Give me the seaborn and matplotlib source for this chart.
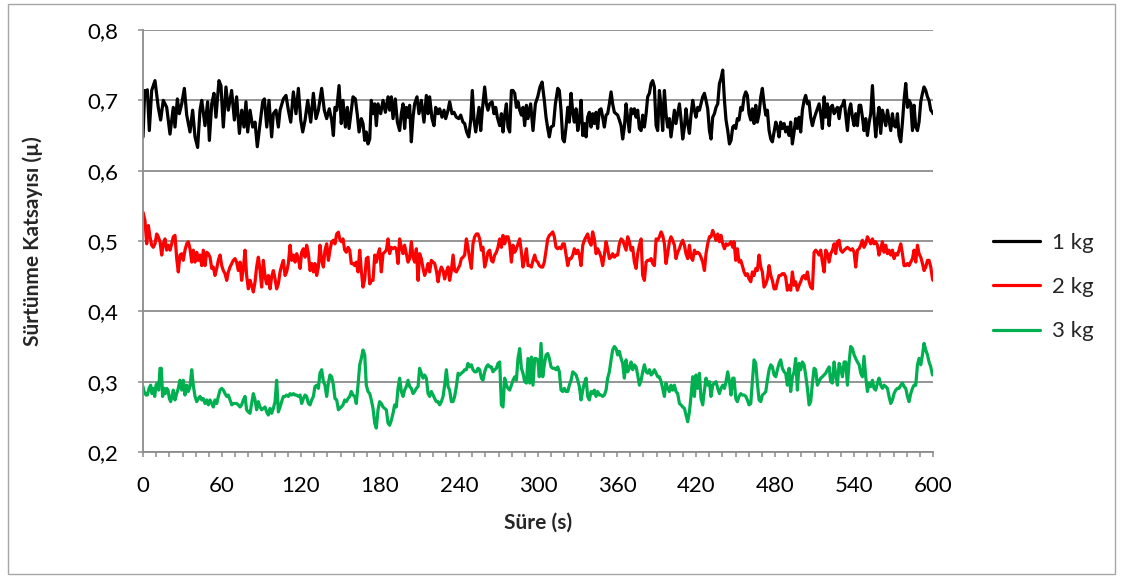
import numpy as np
import pandas as pd
import matplotlib
matplotlib.use("Agg")
import matplotlib.pyplot as plt
from matplotlib.patches import Rectangle
from matplotlib.ticker import MultipleLocator, FuncFormatter
import seaborn as sns

# ---------------- data (time s, friction coefficient) ----------------
series_labels = ["1 kg", "2 kg", "3 kg"]
series_colors = ["#000000", "#FF0000", "#00B050"]

black_pts = [
    (0.0, 0.648), (1.3, 0.714), (2.0, 0.707), (3.3, 0.715), (4.8, 0.657), (6.6, 0.714), (9.1, 0.728),
    (11.6, 0.690), (13.4, 0.672), (15.4, 0.700), (18.0, 0.690), (20.5, 0.652), (23.0, 0.690), (24.3, 0.662),
    (26.1, 0.702), (27.6, 0.681), (29.4, 0.695), (31.4, 0.717), (33.2, 0.679), (35.7, 0.655), (37.7, 0.686),
    (39.5, 0.648), (41.5, 0.633), (43.3, 0.686), (44.6, 0.700), (47.1, 0.664), (49.1, 0.698), (50.4, 0.643),
    (52.2, 0.695), (53.9, 0.710), (55.4, 0.676), (57.7, 0.728), (59.2, 0.721), (61.0, 0.662), (63.0, 0.719),
    (64.8, 0.686), (67.3, 0.714), (69.4, 0.672), (71.1, 0.705), (73.2, 0.653), (75.0, 0.686), (76.7, 0.662),
    (78.2, 0.698), (79.5, 0.655), (81.3, 0.686), (83.3, 0.662), (85.1, 0.669), (86.8, 0.634), (88.9, 0.667),
    (90.9, 0.698), (92.2, 0.702), (94.0, 0.662), (95.7, 0.700), (97.7, 0.648), (99.0, 0.681), (101.0, 0.686),
    (102.8, 0.662), (104.1, 0.686), (106.6, 0.702), (108.6, 0.707), (110.4, 0.686), (112.2, 0.669),
    (114.2, 0.712), (116.2, 0.681), (118.0, 0.717), (119.8, 0.672), (121.3, 0.655), (123.1, 0.672),
    (125.1, 0.700), (127.4, 0.669), (129.4, 0.710), (131.4, 0.674), (133.2, 0.686), (135.7, 0.717),
    (137.7, 0.686), (139.5, 0.674), (141.5, 0.688), (143.3, 0.672), (144.6, 0.650), (145.8, 0.690),
    (147.1, 0.686), (148.9, 0.721),
    (150.6, 0.667), (151.9, 0.700), (153.7, 0.662), (155.2, 0.690), (156.5, 0.660), (158.2, 0.686),
    (159.5, 0.705), (161.3, 0.702), (162.8, 0.679), (164.1, 0.655), (165.8, 0.674), (167.1, 0.667),
    (168.4, 0.643), (169.6, 0.655), (170.9, 0.638), (172.2, 0.645), (173.4, 0.700), (174.7, 0.681),
    (176.0, 0.695), (177.2, 0.664), (178.5, 0.695), (180.5, 0.681), (182.3, 0.700), (184.1, 0.683),
    (186.1, 0.705), (187.3, 0.686), (188.6, 0.705), (189.9, 0.674), (191.6, 0.702), (193.2, 0.669),
    (194.9, 0.657), (196.2, 0.681), (197.5, 0.695), (198.7, 0.660), (200.0, 0.690), (201.3, 0.676),
    (202.5, 0.693), (203.8, 0.641), (205.1, 0.676), (206.3, 0.695), (208.1, 0.705), (209.6, 0.681),
    (211.4, 0.700), (213.4, 0.669), (215.2, 0.707), (216.5, 0.681), (217.7, 0.705), (219.5, 0.674),
    (221.0, 0.664), (222.3, 0.690), (224.1, 0.681), (225.3, 0.688), (227.1, 0.676), (228.6, 0.686),
    (229.9, 0.674), (231.7, 0.686), (232.9, 0.698), (234.7, 0.681), (236.2, 0.683), (238.0, 0.676),
    (239.8, 0.674), (241.3, 0.679), (243.0, 0.669), (244.3, 0.667), (245.8, 0.655), (247.4, 0.648),
    (248.9, 0.672), (250.1, 0.714), (251.4, 0.672), (252.7, 0.655), (253.9, 0.672), (255.2, 0.690),
    (256.5, 0.657), (257.7, 0.686), (259.5, 0.719), (260.8, 0.695), (262.0, 0.686), (263.3, 0.695),
    (265.1, 0.698), (266.6, 0.681), (267.9, 0.690), (269.1, 0.676), (270.9, 0.664), (272.2, 0.681),
    (273.4, 0.655), (274.7, 0.679), (276.0, 0.695), (277.2, 0.662), (278.5, 0.655), (279.8, 0.714),
    (281.0, 0.714), (282.3, 0.710), (283.6, 0.690), (284.8, 0.698), (286.1, 0.686), (287.4, 0.679),
    (288.6, 0.690), (289.9, 0.664), (291.2, 0.693), (292.4, 0.674), (294.4, 0.695), (296.2, 0.657),
    (298.0, 0.695),
    (299.8, 0.705), (301.5, 0.719), (303.1, 0.726), (304.8, 0.700), (306.1, 0.676), (307.4, 0.660),
    (308.6, 0.648), (309.9, 0.662), (311.7, 0.664), (313.2, 0.695), (315.0, 0.717), (316.2, 0.714),
    (317.5, 0.686), (318.8, 0.645), (320.0, 0.641), (321.3, 0.662), (322.6, 0.690), (323.8, 0.669),
    (325.1, 0.710), (326.4, 0.683), (327.6, 0.669), (328.9, 0.688), (330.2, 0.657), (331.4, 0.672),
    (332.7, 0.700), (334.0, 0.650), (335.2, 0.667), (336.5, 0.648), (337.7, 0.676), (339.0, 0.683),
    (340.3, 0.662), (341.5, 0.681), (342.8, 0.667), (344.1, 0.683), (345.3, 0.660), (346.6, 0.686),
    (347.9, 0.688), (349.1, 0.676), (350.4, 0.662), (351.7, 0.679), (352.9, 0.681), (354.2, 0.695),
    (355.5, 0.712), (356.7, 0.695), (358.0, 0.683), (359.3, 0.681), (360.5, 0.679), (361.8, 0.672),
    (363.1, 0.664), (364.3, 0.645), (365.6, 0.662), (366.9, 0.695), (368.1, 0.674), (369.4, 0.655),
    (370.7, 0.688), (371.9, 0.681), (373.2, 0.688), (374.5, 0.676), (375.7, 0.686), (377.0, 0.660),
    (378.3, 0.657), (379.5, 0.679), (380.8, 0.662), (382.1, 0.681), (383.3, 0.705), (384.6, 0.710),
    (385.9, 0.724), (387.1, 0.728), (388.4, 0.719), (389.7, 0.664), (390.9, 0.657), (392.2, 0.714),
    (393.5, 0.690), (394.7, 0.657), (396.0, 0.714), (397.2, 0.681), (398.5, 0.662), (399.8, 0.674),
    (401.0, 0.648), (402.3, 0.667), (403.6, 0.686), (404.8, 0.667), (406.1, 0.681), (407.4, 0.695),
    (408.6, 0.674), (409.9, 0.645), (411.2, 0.662), (412.4, 0.688), (413.7, 0.667), (415.0, 0.653),
    (416.2, 0.679), (417.5, 0.700), (418.8, 0.686), (420.0, 0.676), (421.3, 0.690), (422.6, 0.686),
    (423.8, 0.695), (425.1, 0.705), (426.4, 0.710), (427.6, 0.700), (428.9, 0.688), (430.2, 0.657),
    (431.4, 0.645), (432.7, 0.676), (434.0, 0.681), (435.2, 0.690), (436.5, 0.695), (437.8, 0.724),
    (439.0, 0.731), (440.3, 0.743), (441.6, 0.700), (442.8, 0.672), (444.1, 0.657), (445.4, 0.638),
    (446.6, 0.643), (447.9, 0.662),
    (448.9, 0.664), (450.2, 0.660), (451.4, 0.674), (452.7, 0.672), (454.0, 0.690), (455.2, 0.686),
    (456.5, 0.705), (457.8, 0.712), (459.0, 0.707), (460.3, 0.681), (461.6, 0.672), (462.8, 0.688),
    (464.1, 0.667), (465.4, 0.693), (466.6, 0.669), (467.9, 0.681), (469.2, 0.705), (470.4, 0.717),
    (471.7, 0.695), (473.0, 0.679), (474.2, 0.686), (475.5, 0.657), (476.8, 0.645), (478.0, 0.641),
    (479.3, 0.655), (480.6, 0.669), (481.8, 0.662), (483.1, 0.648), (484.3, 0.669), (485.6, 0.660),
    (486.9, 0.667), (488.1, 0.655), (489.4, 0.662), (490.7, 0.650), (491.9, 0.669), (493.2, 0.638),
    (494.5, 0.655), (495.7, 0.674), (497.0, 0.660), (498.3, 0.676), (499.5, 0.655), (500.8, 0.686),
    (502.1, 0.700), (503.3, 0.707), (504.6, 0.695), (505.9, 0.698), (507.1, 0.676), (508.4, 0.664),
    (509.7, 0.674), (510.9, 0.681), (512.2, 0.688), (513.5, 0.695), (514.7, 0.681), (516.0, 0.660),
    (517.3, 0.705), (518.5, 0.676), (519.8, 0.695), (521.1, 0.664), (522.3, 0.690), (523.6, 0.693),
    (524.9, 0.681), (526.1, 0.686), (527.4, 0.690), (528.7, 0.674), (529.9, 0.690), (531.2, 0.693),
    (532.5, 0.700), (533.7, 0.679), (535.0, 0.657), (536.3, 0.686), (537.5, 0.695), (538.8, 0.676),
    (540.1, 0.664), (541.3, 0.681), (542.6, 0.664), (543.9, 0.693), (545.1, 0.693), (546.4, 0.676),
    (547.6, 0.657), (548.9, 0.674), (550.2, 0.650), (551.4, 0.667), (552.7, 0.681), (554.0, 0.721),
    (555.2, 0.679), (556.5, 0.648), (557.8, 0.674), (559.0, 0.690), (560.3, 0.653), (561.6, 0.686),
    (562.8, 0.676), (564.1, 0.664), (565.4, 0.686), (566.6, 0.672), (567.9, 0.657), (569.2, 0.681),
    (570.4, 0.664), (571.7, 0.662), (573.0, 0.681), (574.2, 0.650), (575.5, 0.641), (576.8, 0.669),
    (578.0, 0.700), (579.3, 0.724), (580.6, 0.690), (581.8, 0.700), (583.1, 0.695), (584.4, 0.657),
    (585.6, 0.693), (586.9, 0.662), (588.2, 0.657), (589.4, 0.669), (590.7, 0.698), (592.0, 0.710),
    (593.2, 0.719), (594.5, 0.714), (595.8, 0.705), (597.0, 0.700), (598.3, 0.686), (599.6, 0.683),
    (600.0, 0.681),
]

red_pts = [
    (0.0, 0.541), (1.5, 0.529), (2.8, 0.496), (4.1, 0.522), (5.3, 0.506), (6.6, 0.494), (7.8, 0.491),
    (9.1, 0.496), (10.4, 0.510), (11.6, 0.506), (12.9, 0.499), (14.2, 0.480), (15.4, 0.496), (16.7, 0.503),
    (18.0, 0.487), (19.2, 0.494), (20.5, 0.487), (21.8, 0.496), (23.0, 0.506), (24.3, 0.508), (25.6, 0.475),
    (26.8, 0.456), (28.1, 0.480), (29.4, 0.482), (30.6, 0.4725), (31.9, 0.487), (33.2, 0.496), (34.4, 0.499),
    (35.7, 0.489), (37.0, 0.470), (38.2, 0.487), (39.5, 0.470), (40.8, 0.484), (42.0, 0.4725), (43.3, 0.480),
    (44.6, 0.465), (45.8, 0.487), (47.1, 0.465), (48.4, 0.484), (49.6, 0.482), (50.9, 0.477), (52.2, 0.461),
    (53.4, 0.463), (54.7, 0.451), (56.0, 0.461), (57.2, 0.4725), (58.5, 0.480), (59.8, 0.465), (61.0, 0.458),
    (62.3, 0.4535), (63.6, 0.444), (64.8, 0.456), (66.1, 0.463), (67.4, 0.468), (68.6, 0.4725), (69.9, 0.475),
    (71.1, 0.470), (72.4, 0.458), (73.7, 0.470), (74.9, 0.444), (76.2, 0.461), (77.5, 0.487), (78.7, 0.451),
    (80.0, 0.432), (81.3, 0.444), (82.5, 0.437), (83.8, 0.4275), (85.1, 0.442), (86.3, 0.463), (87.6, 0.477),
    (88.9, 0.458), (90.1, 0.4345), (91.4, 0.4725), (92.7, 0.449), (93.9, 0.439), (95.2, 0.451), (96.5, 0.432),
    (97.7, 0.449), (99.0, 0.458), (100.3, 0.446), (101.5, 0.432), (102.8, 0.439), (104.1, 0.456),
    (105.3, 0.465), (106.6, 0.4725), (107.9, 0.451), (109.1, 0.456), (110.4, 0.468), (111.7, 0.494),
    (112.9, 0.4725), (114.2, 0.480), (115.5, 0.470), (116.7, 0.482), (118.0, 0.475), (119.3, 0.461),
    (120.5, 0.484), (121.8, 0.489), (123.1, 0.477), (124.3, 0.494), (125.6, 0.482), (126.9, 0.458),
    (128.1, 0.468), (129.4, 0.456), (130.6, 0.468), (131.9, 0.451), (133.2, 0.463), (134.4, 0.494),
    (135.7, 0.4725), (137.0, 0.463), (138.2, 0.487), (139.5, 0.496), (140.8, 0.4725), (142.0, 0.487),
    (143.3, 0.499), (144.6, 0.501), (145.8, 0.496), (147.1, 0.510), (148.4, 0.5125),
    (149.4, 0.503), (150.6, 0.499), (151.9, 0.503), (153.2, 0.487), (154.4, 0.484), (155.7, 0.491),
    (157.0, 0.487), (158.2, 0.468), (159.5, 0.468), (160.8, 0.465), (162.0, 0.470), (163.3, 0.456),
    (164.6, 0.487), (165.8, 0.458), (167.1, 0.4345), (168.4, 0.446), (169.6, 0.475), (170.9, 0.477),
    (172.2, 0.439), (173.4, 0.444), (174.7, 0.444), (176.0, 0.480), (177.2, 0.470), (178.5, 0.482),
    (179.7, 0.489), (181.0, 0.456), (182.3, 0.482), (183.5, 0.484), (184.8, 0.487), (186.1, 0.503),
    (187.3, 0.482), (188.6, 0.491), (189.9, 0.489), (191.1, 0.491), (192.4, 0.489), (193.7, 0.468),
    (194.9, 0.503), (196.2, 0.491), (197.5, 0.482), (198.7, 0.494), (200.0, 0.482), (201.3, 0.470),
    (202.5, 0.475), (203.8, 0.499), (205.1, 0.477), (206.3, 0.470), (207.6, 0.489), (208.9, 0.444),
    (210.1, 0.482), (211.4, 0.475), (212.7, 0.461), (213.9, 0.451), (215.2, 0.458), (216.5, 0.468),
    (217.7, 0.456), (219.0, 0.4725), (220.3, 0.470), (221.5, 0.468), (222.8, 0.458), (224.1, 0.442),
    (225.3, 0.456), (226.6, 0.463), (227.9, 0.458), (229.1, 0.446), (230.4, 0.456), (231.7, 0.463),
    (232.9, 0.444), (234.2, 0.458), (235.5, 0.480), (236.7, 0.458), (238.0, 0.456), (239.3, 0.461),
    (240.5, 0.465), (241.8, 0.475), (243.1, 0.477), (244.3, 0.480), (245.6, 0.503), (246.8, 0.491),
    (248.1, 0.475), (249.4, 0.461), (250.6, 0.496), (251.9, 0.506), (253.2, 0.510), (254.4, 0.510),
    (255.7, 0.503), (257.0, 0.487), (258.2, 0.491), (259.5, 0.463), (260.8, 0.4725), (262.0, 0.484),
    (263.3, 0.487), (264.6, 0.4725), (265.8, 0.470), (267.1, 0.480), (268.4, 0.484), (269.6, 0.491),
    (270.9, 0.503), (272.2, 0.491), (273.4, 0.508), (274.7, 0.496), (276.0, 0.506), (277.2, 0.506),
    (278.5, 0.496), (279.8, 0.470), (281.0, 0.494), (282.3, 0.484), (283.6, 0.489), (284.8, 0.496),
    (286.1, 0.503), (287.4, 0.484), (288.6, 0.463), (289.9, 0.475), (291.2, 0.489), (292.4, 0.465),
    (293.7, 0.465), (295.0, 0.463), (296.2, 0.4725), (297.5, 0.480),
    (298.5, 0.4725), (299.8, 0.470), (301.0, 0.465), (302.3, 0.463), (303.6, 0.463), (304.8, 0.470),
    (306.1, 0.487), (307.4, 0.503), (308.6, 0.508), (309.9, 0.510), (311.2, 0.513), (312.4, 0.506),
    (313.7, 0.491), (315.0, 0.489), (316.2, 0.491), (317.5, 0.489), (318.8, 0.496), (320.0, 0.496),
    (321.3, 0.480), (322.6, 0.465), (323.8, 0.475), (325.1, 0.475), (326.4, 0.480), (327.6, 0.489),
    (328.9, 0.482), (330.2, 0.487), (331.4, 0.480), (332.7, 0.465), (334.0, 0.494), (335.2, 0.501),
    (336.5, 0.506), (337.7, 0.510), (339.0, 0.499), (340.3, 0.494), (341.5, 0.513), (342.8, 0.503),
    (344.1, 0.482), (345.3, 0.489), (346.6, 0.484), (347.9, 0.477), (349.1, 0.465), (350.4, 0.480),
    (351.7, 0.499), (352.9, 0.489), (354.2, 0.475), (355.5, 0.477), (356.7, 0.482), (358.0, 0.477),
    (359.3, 0.480), (360.5, 0.480), (361.8, 0.496), (363.1, 0.503), (364.3, 0.501), (365.6, 0.494),
    (366.9, 0.487), (368.1, 0.506), (369.4, 0.499), (370.7, 0.487), (371.9, 0.491), (373.2, 0.470),
    (374.5, 0.461), (375.7, 0.482), (377.0, 0.494), (378.3, 0.503), (379.5, 0.451), (380.8, 0.444),
    (382.1, 0.470), (383.3, 0.4725), (384.6, 0.4725), (385.9, 0.475), (387.1, 0.468), (388.4, 0.465),
    (389.7, 0.503), (390.9, 0.501), (392.2, 0.506), (393.5, 0.513), (394.7, 0.508), (396.0, 0.496),
    (397.2, 0.468), (398.5, 0.482), (399.8, 0.499), (401.0, 0.506), (402.3, 0.501), (403.6, 0.494),
    (404.8, 0.475), (406.1, 0.484), (407.4, 0.489), (408.6, 0.496), (409.9, 0.501), (411.2, 0.494),
    (412.4, 0.482), (413.7, 0.475), (415.0, 0.494), (416.2, 0.477), (417.5, 0.4725), (418.8, 0.487),
    (420.0, 0.482), (421.3, 0.484), (422.6, 0.482), (423.8, 0.477), (425.1, 0.470), (426.4, 0.458),
    (427.6, 0.482), (428.9, 0.496), (430.2, 0.506), (431.4, 0.506), (432.7, 0.515), (434.0, 0.508),
    (435.2, 0.501), (436.5, 0.510), (437.8, 0.499), (439.0, 0.508), (440.3, 0.496), (441.6, 0.489),
    (442.8, 0.496), (444.1, 0.494), (445.4, 0.496), (446.6, 0.499), (447.9, 0.491),
    (448.9, 0.499), (450.2, 0.4725), (451.4, 0.489), (452.7, 0.470), (454.0, 0.4725), (455.2, 0.465),
    (456.5, 0.456), (457.8, 0.451), (459.0, 0.4535), (460.3, 0.446), (461.6, 0.442), (462.8, 0.456),
    (464.1, 0.451), (465.4, 0.461), (466.6, 0.458), (467.9, 0.480), (469.2, 0.463), (470.4, 0.456),
    (471.7, 0.4345), (473.0, 0.439), (474.2, 0.446), (475.5, 0.465), (476.8, 0.451), (478.0, 0.444),
    (479.3, 0.432), (480.6, 0.432), (481.8, 0.442), (483.1, 0.451), (484.3, 0.451), (485.6, 0.4535),
    (486.9, 0.4535), (488.1, 0.449), (489.4, 0.430), (490.7, 0.437), (491.9, 0.430), (493.2, 0.456),
    (494.5, 0.437), (495.7, 0.442), (497.0, 0.430), (498.3, 0.437), (499.5, 0.442), (500.8, 0.449),
    (502.1, 0.451), (503.3, 0.446), (504.6, 0.456), (505.9, 0.442), (507.1, 0.4345), (508.4, 0.432),
    (509.7, 0.484), (510.9, 0.487), (512.2, 0.484), (513.5, 0.480), (514.7, 0.487), (516.0, 0.470),
    (517.3, 0.456), (518.5, 0.487), (519.8, 0.482), (521.1, 0.470), (522.3, 0.482), (523.6, 0.487),
    (524.9, 0.496), (526.1, 0.482), (527.4, 0.499), (528.7, 0.501), (529.9, 0.487), (531.2, 0.484),
    (532.5, 0.487), (533.7, 0.489), (535.0, 0.491), (536.3, 0.489), (537.5, 0.487), (538.8, 0.489),
    (540.1, 0.484), (541.3, 0.463), (542.6, 0.487), (543.9, 0.489), (545.1, 0.494), (546.4, 0.501),
    (547.6, 0.491), (548.9, 0.496), (550.2, 0.506), (551.4, 0.501), (552.7, 0.496), (554.0, 0.503),
    (555.2, 0.496), (556.5, 0.499), (557.8, 0.494), (559.0, 0.480), (560.3, 0.489), (561.6, 0.499),
    (562.8, 0.484), (564.1, 0.494), (565.4, 0.482), (566.6, 0.487), (567.9, 0.480), (569.2, 0.487),
    (570.4, 0.475), (571.7, 0.482), (573.0, 0.480), (574.2, 0.487), (575.5, 0.496), (576.8, 0.482),
    (578.0, 0.465), (579.3, 0.465), (580.6, 0.468), (581.8, 0.465), (583.1, 0.470), (584.4, 0.475),
    (585.6, 0.487), (586.9, 0.470), (588.2, 0.494), (589.4, 0.482), (590.7, 0.477), (592.0, 0.468),
    (593.2, 0.458), (594.5, 0.463), (595.8, 0.4725), (597.0, 0.4725), (598.3, 0.463), (599.6, 0.446),
    (600.0, 0.444),
]

green_pts = [
    (0.0, 0.293), (0.8, 0.286), (2.3, 0.281), (3.3, 0.281), (4.6, 0.2905), (5.8, 0.295), (6.8, 0.283),
    (7.8, 0.2905), (8.9, 0.279), (9.9, 0.295), (10.9, 0.298), (11.9, 0.288), (12.9, 0.319), (13.9, 0.319),
    (14.9, 0.279), (16.0, 0.2905), (17.0, 0.283), (18.0, 0.2905), (19.0, 0.288), (20.0, 0.276),
    (21.0, 0.2716), (22.0, 0.279), (23.0, 0.288), (24.3, 0.274), (25.6, 0.283), (26.8, 0.2905),
    (28.1, 0.302), (29.4, 0.288), (30.6, 0.302), (31.9, 0.281), (33.2, 0.295), (34.4, 0.286), (35.7, 0.293),
    (37.0, 0.317), (38.2, 0.295), (39.5, 0.279), (40.8, 0.2716), (42.0, 0.276), (43.3, 0.279), (44.6, 0.274),
    (45.8, 0.276), (47.1, 0.269), (48.4, 0.274), (49.6, 0.267), (50.9, 0.274), (52.2, 0.269), (53.4, 0.264),
    (54.7, 0.274), (56.0, 0.269), (57.2, 0.279), (58.5, 0.288), (59.8, 0.2905), (61.0, 0.288), (62.3, 0.283),
    (63.6, 0.279), (64.8, 0.281), (66.1, 0.274), (67.4, 0.267), (68.6, 0.269), (69.9, 0.269), (71.1, 0.269),
    (72.4, 0.267), (73.7, 0.264), (74.9, 0.267), (76.2, 0.274), (77.5, 0.279), (78.7, 0.260), (80.0, 0.257),
    (81.3, 0.255), (82.5, 0.269), (83.8, 0.283), (85.1, 0.274), (86.3, 0.260), (87.6, 0.2716), (88.9, 0.264),
    (90.1, 0.260), (91.4, 0.262), (92.7, 0.264), (93.9, 0.257), (95.2, 0.2526), (96.5, 0.262), (97.7, 0.255),
    (99.0, 0.262), (100.3, 0.2716), (101.5, 0.302), (102.8, 0.257), (104.1, 0.264), (105.3, 0.2716),
    (106.6, 0.279), (107.9, 0.279), (109.1, 0.281), (110.4, 0.279), (111.7, 0.283), (112.9, 0.281),
    (114.2, 0.283), (115.5, 0.281), (116.7, 0.281), (118.0, 0.279), (119.3, 0.281), (120.5, 0.269),
    (121.8, 0.276), (123.1, 0.281), (124.3, 0.279), (125.6, 0.269), (126.9, 0.267), (128.1, 0.274),
    (129.4, 0.279), (130.6, 0.293), (131.9, 0.295), (133.2, 0.2905), (134.4, 0.312), (135.7, 0.317),
    (137.0, 0.300), (138.2, 0.295), (139.5, 0.279), (140.8, 0.298), (142.0, 0.3095), (143.3, 0.307),
    (144.6, 0.295), (145.8, 0.276), (147.1, 0.274), (148.4, 0.260),
    (149.4, 0.262), (150.6, 0.264), (151.9, 0.267), (153.2, 0.274), (154.4, 0.2716), (155.7, 0.276),
    (157.0, 0.279), (158.2, 0.286), (159.5, 0.281), (160.8, 0.279), (162.0, 0.269), (163.3, 0.295),
    (164.6, 0.324), (165.8, 0.333), (167.1, 0.345), (168.4, 0.338), (169.6, 0.295), (170.9, 0.286),
    (172.2, 0.283), (173.4, 0.274), (174.7, 0.262), (176.0, 0.241), (177.2, 0.234), (178.5, 0.260),
    (179.7, 0.2716), (181.0, 0.269), (182.3, 0.264), (183.5, 0.262), (184.8, 0.260), (186.1, 0.241),
    (187.3, 0.238), (188.6, 0.245), (189.9, 0.255), (191.1, 0.267), (192.4, 0.264), (193.7, 0.2905),
    (194.9, 0.305), (196.2, 0.286), (197.5, 0.279), (198.7, 0.288), (200.0, 0.293), (201.3, 0.302),
    (202.5, 0.293), (203.8, 0.2905), (205.1, 0.283), (206.3, 0.286), (207.6, 0.2905), (208.9, 0.293),
    (210.1, 0.319), (211.4, 0.312), (212.7, 0.305), (213.9, 0.3095), (215.2, 0.305), (216.5, 0.283),
    (217.7, 0.279), (219.0, 0.286), (220.3, 0.281), (221.5, 0.276), (222.8, 0.2716), (224.1, 0.2716),
    (225.3, 0.267), (226.6, 0.2716), (227.9, 0.279), (229.1, 0.295), (230.4, 0.317), (231.7, 0.293),
    (232.9, 0.288), (234.2, 0.2716), (235.5, 0.2716), (236.7, 0.279), (238.0, 0.293), (239.3, 0.312),
    (240.5, 0.3095), (241.8, 0.312), (243.1, 0.314), (244.3, 0.317), (245.6, 0.317), (246.8, 0.326),
    (248.1, 0.321), (249.4, 0.324), (250.6, 0.317), (251.9, 0.314), (253.2, 0.314), (254.4, 0.319),
    (255.7, 0.317), (257.0, 0.305), (258.2, 0.302), (259.5, 0.314), (260.8, 0.321), (262.0, 0.324),
    (263.3, 0.321), (264.6, 0.321), (265.8, 0.314), (267.1, 0.317), (268.4, 0.319), (269.6, 0.326),
    (270.9, 0.328), (272.2, 0.267), (273.4, 0.264), (274.7, 0.305), (276.0, 0.295), (277.2, 0.2905),
    (278.5, 0.288), (279.8, 0.295), (281.0, 0.302), (282.3, 0.307), (283.6, 0.302), (284.8, 0.333),
    (286.1, 0.347), (287.4, 0.319), (288.6, 0.312), (289.9, 0.300), (291.2, 0.298), (292.4, 0.333),
    (293.7, 0.298), (295.0, 0.335), (296.2, 0.295), (297.5, 0.333),
    (298.5, 0.333), (299.8, 0.331), (301.0, 0.307), (302.3, 0.3545), (303.6, 0.307), (304.8, 0.324),
    (306.1, 0.338), (307.4, 0.340), (308.6, 0.333), (309.9, 0.321), (311.2, 0.319), (312.4, 0.319),
    (313.7, 0.317), (315.0, 0.321), (316.2, 0.314), (317.5, 0.288), (318.8, 0.286), (320.0, 0.2905),
    (321.3, 0.286), (322.6, 0.286), (323.8, 0.295), (325.1, 0.302), (326.4, 0.314), (327.6, 0.312),
    (328.9, 0.3095), (330.2, 0.302), (331.4, 0.293), (332.7, 0.274), (334.0, 0.288), (335.2, 0.298),
    (336.5, 0.305), (337.7, 0.279), (339.0, 0.274), (340.3, 0.286), (341.5, 0.283), (342.8, 0.288),
    (344.1, 0.279), (345.3, 0.286), (346.6, 0.281), (347.9, 0.281), (349.1, 0.279), (350.4, 0.281),
    (351.7, 0.288), (352.9, 0.305), (354.2, 0.314), (355.5, 0.331), (356.7, 0.345), (358.0, 0.350),
    (359.3, 0.347), (360.5, 0.338), (361.8, 0.343), (363.1, 0.333), (364.3, 0.326), (365.6, 0.305),
    (366.9, 0.331), (368.1, 0.314), (369.4, 0.319), (370.7, 0.328), (371.9, 0.317), (373.2, 0.324),
    (374.5, 0.321), (375.7, 0.3095), (377.0, 0.295), (378.3, 0.302), (379.5, 0.314), (380.8, 0.324),
    (382.1, 0.314), (383.3, 0.312), (384.6, 0.317), (385.9, 0.3095), (387.1, 0.312), (388.4, 0.317),
    (389.7, 0.312), (390.9, 0.307), (392.2, 0.307), (393.5, 0.300), (394.7, 0.2905), (396.0, 0.279),
    (397.2, 0.298), (398.5, 0.2905), (399.8, 0.286), (401.0, 0.295), (402.3, 0.288), (403.6, 0.295),
    (404.8, 0.286), (406.1, 0.283), (407.4, 0.269), (408.6, 0.267), (409.9, 0.264), (411.2, 0.262),
    (412.4, 0.2526), (413.7, 0.243), (415.0, 0.257), (416.2, 0.279), (417.5, 0.307), (418.8, 0.279),
    (420.0, 0.3095), (421.3, 0.2905), (422.6, 0.312), (423.8, 0.276), (425.1, 0.267), (426.4, 0.288),
    (427.6, 0.305), (428.9, 0.295), (430.2, 0.300), (431.4, 0.279), (432.7, 0.295), (434.0, 0.298),
    (435.2, 0.300), (436.5, 0.2905), (437.8, 0.283), (439.0, 0.2905), (440.3, 0.295), (441.6, 0.2905),
    (442.8, 0.300), (444.1, 0.314), (445.4, 0.300), (446.6, 0.281), (447.9, 0.305),
    (448.9, 0.305), (450.2, 0.276), (451.4, 0.2716), (452.7, 0.279), (454.0, 0.283), (455.2, 0.281),
    (456.5, 0.281), (457.8, 0.279), (459.0, 0.274), (460.3, 0.267), (461.6, 0.269), (462.8, 0.300),
    (464.1, 0.331), (465.4, 0.326), (466.6, 0.298), (467.9, 0.274), (469.2, 0.2716), (470.4, 0.281),
    (471.7, 0.283), (473.0, 0.286), (474.2, 0.302), (475.5, 0.317), (476.8, 0.324), (478.0, 0.321),
    (479.3, 0.3095), (480.6, 0.307), (481.8, 0.317), (483.1, 0.326), (484.3, 0.331), (485.6, 0.319),
    (486.9, 0.314), (488.1, 0.312), (489.4, 0.295), (490.7, 0.319), (491.9, 0.286), (493.2, 0.307),
    (494.5, 0.314), (495.7, 0.333), (497.0, 0.288), (498.3, 0.326), (499.5, 0.317), (500.8, 0.328),
    (502.1, 0.324), (503.3, 0.3095), (504.6, 0.2905), (505.9, 0.267), (507.1, 0.2716), (508.4, 0.298),
    (509.7, 0.319), (510.9, 0.317), (512.2, 0.295), (513.5, 0.300), (514.7, 0.305), (516.0, 0.307),
    (517.3, 0.3095), (518.5, 0.312), (519.8, 0.317), (521.1, 0.321), (522.3, 0.300), (523.6, 0.298),
    (524.9, 0.328), (526.1, 0.3095), (527.4, 0.295), (528.7, 0.326), (529.9, 0.319), (531.2, 0.307),
    (532.5, 0.328), (533.7, 0.328), (535.0, 0.295), (536.3, 0.328), (537.5, 0.350), (538.8, 0.347),
    (540.1, 0.338), (541.3, 0.333), (542.6, 0.328), (543.9, 0.324), (545.1, 0.312), (546.4, 0.307),
    (547.6, 0.336), (548.9, 0.307), (550.2, 0.286), (551.4, 0.298), (552.7, 0.293), (554.0, 0.302),
    (555.2, 0.2905), (556.5, 0.288), (557.8, 0.298), (559.0, 0.305), (560.3, 0.295), (561.6, 0.2905),
    (562.8, 0.295), (564.1, 0.293), (565.4, 0.2905), (566.6, 0.279), (567.9, 0.269), (569.2, 0.274),
    (570.4, 0.283), (571.7, 0.288), (573.0, 0.2905), (574.2, 0.2905), (575.5, 0.295), (576.8, 0.298),
    (578.0, 0.293), (579.3, 0.2905), (580.6, 0.279), (581.8, 0.2716), (583.1, 0.283), (584.4, 0.2905),
    (585.6, 0.295), (586.9, 0.295), (588.2, 0.324), (589.4, 0.333), (590.7, 0.324), (592.0, 0.338),
    (593.2, 0.3545), (594.5, 0.345), (595.8, 0.338), (597.0, 0.328), (598.3, 0.321), (599.6, 0.3095),
    (600.0, 0.312),
]

x_ticks = [0, 60, 120, 180, 240, 300, 360, 420, 480, 540, 600]
y_ticks = [0.2, 0.3, 0.4, 0.5, 0.6, 0.7, 0.8]
x_label = "Süre (s)"
y_label = "Sürtünme Katsayısı (µ)"

# ---------------- build long-form table ----------------
frames = []
for lab, pts in zip(series_labels, [black_pts, red_pts, green_pts]):
    t, mu = zip(*pts)
    frames.append(pd.DataFrame({"t": t, "mu": mu, "load": lab}))
df = pd.concat(frames, ignore_index=True)

# ---------------- style ----------------
sns.set_style("white")
plt.rcParams["font.family"] = ["Lato", "DejaVu Sans"]
plt.rcParams["font.size"] = 12

TICK_FS = 16
TITLE_FS = 15
LEG_FS = 16

W, H, DPI = 1121, 579, 100
fig = plt.figure(figsize=(W / DPI, H / DPI), dpi=DPI)
fig.patch.set_facecolor("white")

# outer chart-area border
fig.add_artist(Rectangle((8 / W, 1 - 574 / H), (1115 - 8) / W, (574 - 4) / H,
                         transform=fig.transFigure, fill=False,
                         edgecolor="#a6a6a6", linewidth=1.0))

ax = fig.add_axes([143 / W, 1 - 452 / H, (933 - 143) / W, (452 - 30) / H])

sns.lineplot(data=df, x="t", y="mu", hue="load", hue_order=series_labels,
             palette=series_colors, estimator=None, linewidth=2.3, ax=ax)

ax.set_xlim(0, 600)
ax.set_ylim(0.2, 0.8)
ax.set_xticks(x_ticks)
ax.xaxis.set_minor_locator(MultipleLocator(10))
ax.set_yticks(y_ticks)
ax.yaxis.set_major_formatter(FuncFormatter(lambda v, p: f"{v:.1f}".replace(".", ",")))

ax.yaxis.grid(True, color="#8c8c8c", linewidth=1.3)
ax.xaxis.grid(False)
ax.set_axisbelow(True)
for s in ["top", "right"]:
    ax.spines[s].set_visible(False)
for s in ["left", "bottom"]:
    ax.spines[s].set_color("#8c8c8c")
    ax.spines[s].set_linewidth(1.3)

ax.tick_params(axis="x", which="major", direction="out", length=3.6, width=1.1,
               color="#8c8c8c", pad=14, labelsize=TICK_FS, labelcolor="black")
ax.tick_params(axis="x", which="minor", direction="out", length=3.6, width=1.1,
               color="#8c8c8c")
ax.tick_params(axis="y", which="major", direction="out", length=3.6, width=1.1,
               color="#8c8c8c", pad=14, labelsize=TICK_FS, labelcolor="black")
ax.xaxis.set_ticks_position("bottom")
ax.yaxis.set_ticks_position("left")

ax.set_xlabel(x_label, fontsize=TITLE_FS, fontweight="bold")
ax.set_ylabel(y_label, fontsize=TITLE_FS, fontweight="bold")
ax.xaxis.set_label_coords(0.5, (452 - 513) / 422)
ax.yaxis.set_label_coords((43 - 143) / 790, 0.5)

leg = ax.legend(loc="center left", bbox_to_anchor=(993 / W, 1 - 287 / H),
                bbox_transform=fig.transFigure, frameon=False, fontsize=LEG_FS,
                handlelength=2.1, handletextpad=0.55, labelspacing=1.1,
                borderpad=0, borderaxespad=0)
for line in leg.get_lines():
    line.set_linewidth(2.3)

fig.savefig("out.png", dpi=DPI, facecolor="white")
